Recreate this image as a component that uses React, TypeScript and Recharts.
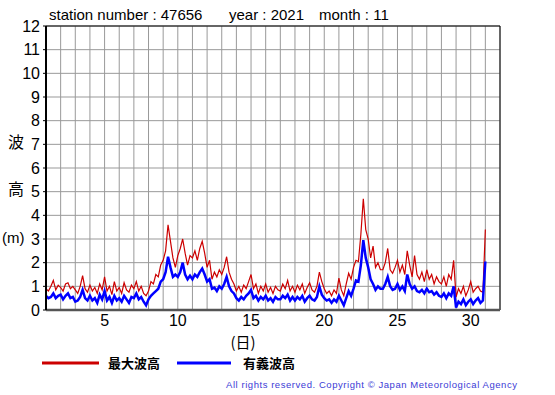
import { CartesianGrid, Line, LineChart, ReferenceLine, XAxis, YAxis } from 'recharts'

// 4-hourly readings, Nov 1 00h .. Dec 1 00h (m)
const maxWave = [
  0.9, 0.8, 1.0, 1.25, 0.85, 1.05,
  0.95, 0.8, 1.1, 1.15, 0.9, 1.0,
  0.85, 0.7, 1.0, 1.45, 0.9, 0.75,
  1.05, 0.8, 0.95, 0.7, 1.1, 0.85,
  1.4, 0.8, 1.0, 0.65, 1.2, 0.8,
  0.95, 0.7, 1.15, 0.85, 0.75, 1.05,
  0.9, 1.2, 0.8, 1.0, 0.7, 0.6,
  0.8, 1.2, 1.1, 1.5, 1.4, 1.9,
  2.1, 2.5, 3.6, 2.9, 2.2, 1.8,
  2.3, 2.6, 3.0, 2.4, 1.9, 2.3,
  2.2, 2.5, 2.1, 2.6, 2.9, 2.4,
  1.8, 2.1, 1.3, 1.6, 1.4, 1.7,
  1.5, 1.8, 2.25, 1.6, 1.3, 1.1,
  0.8, 1.0, 0.75, 1.05, 0.9, 1.2,
  1.5, 0.9, 1.1, 0.7, 1.0, 0.8,
  1.1, 0.75, 0.95, 0.7, 1.0, 0.85,
  0.8, 1.1, 0.9, 1.25, 0.8, 1.0,
  0.75, 1.05, 0.85, 1.1, 0.7, 0.95,
  1.15, 0.85, 0.75, 1.0, 1.6, 1.2,
  0.9, 0.7, 0.8, 0.6, 0.85, 0.7,
  1.35, 0.85, 0.6, 1.1, 1.55, 1.3,
  1.8, 2.1, 2.05, 3.2, 4.7, 3.4,
  3.0, 2.2, 2.7, 1.8, 2.0, 1.7,
  1.7, 2.0, 2.6, 1.7, 1.55, 1.8,
  2.1, 1.6, 1.9, 1.5, 2.5, 1.9,
  1.4, 2.3, 1.5, 1.3, 1.6, 1.2,
  1.7, 1.3, 1.5, 1.1, 1.4, 1.2,
  1.1, 1.4, 1.0, 1.5, 1.3, 2.1,
  0.55, 0.9, 0.7, 1.0, 0.6, 0.85,
  1.2, 0.75, 0.9, 1.0, 0.8, 0.75,
  3.4,
]

const sigWave = [
  0.6, 0.5, 0.55, 0.7, 0.5, 0.6,
  0.65, 0.45, 0.6, 0.7, 0.5, 0.55,
  0.35, 0.4, 0.55, 0.85, 0.5, 0.4,
  0.6, 0.4, 0.5, 0.3, 0.65, 0.45,
  0.8, 0.4, 0.55, 0.3, 0.6, 0.4,
  0.5, 0.35, 0.6, 0.45, 0.3, 0.55,
  0.5, 0.7, 0.45, 0.55, 0.35, 0.2,
  0.45, 0.6, 0.7, 0.8, 0.9, 1.2,
  1.3, 1.6, 2.25, 1.8, 1.4, 1.5,
  1.4, 1.6, 2.0, 1.5, 1.3, 1.45,
  1.3, 1.5, 1.4, 1.6, 1.75, 1.5,
  1.2, 1.3, 0.9, 0.95, 0.8, 1.0,
  0.9, 1.1, 1.4, 1.0, 0.8, 0.7,
  0.5, 0.4, 0.55, 0.45, 0.6, 0.7,
  0.85, 0.5, 0.6, 0.4, 0.55, 0.45,
  0.6, 0.4, 0.5, 0.35, 0.55, 0.45,
  0.45, 0.6, 0.5, 0.65, 0.4, 0.55,
  0.4, 0.55, 0.45, 0.6, 0.35, 0.5,
  0.6, 0.45, 0.4, 0.55, 1.0, 0.65,
  0.5, 0.4, 0.45, 0.3, 0.45, 0.35,
  0.6, 0.4, 0.2, 0.5, 0.8, 0.6,
  0.9, 1.25, 1.2, 1.9, 2.95, 2.2,
  1.8, 1.3, 1.1, 0.85, 1.0, 0.9,
  0.9, 1.1, 1.4, 1.0, 0.85, 0.9,
  1.1, 0.85, 1.0, 0.8, 1.5, 1.1,
  0.9, 1.0, 0.8, 0.75, 0.85, 0.7,
  0.9, 0.75, 0.8, 0.65, 0.75, 0.6,
  0.55, 0.7, 0.5, 0.7, 0.6, 1.0,
  0.1, 0.35, 0.25, 0.45, 0.2, 0.35,
  0.45, 0.25, 0.4, 0.5, 0.3, 0.4,
  2.05,
]

const yTicks = [0, 1, 2, 3, 4, 5, 6, 7, 8, 9, 10, 11, 12]
const dayTicks = [1, 2, 3, 4, 5, 6, 7, 8, 9, 10, 11, 12, 13, 14, 15, 16, 17, 18, 19, 20, 21, 22, 23, 24, 25, 26, 27, 28, 29, 30, 31, 32]
const dayLabels = [5, 10, 15, 20, 25, 30]

const data = maxWave.map((v, i) => ({ day: 1 + i / 6, max: v, sig: sigWave[i] }))

const sans = '"Liberation Sans", Arial, sans-serif'
const cjk = '"Noto Sans CJK JP", sans-serif'

export default function App() {
  return (
    <div style={{ position: 'absolute', left: 0, top: 0, width: 555, height: 395, background: '#fff' }}>
      <LineChart width={555} height={395} data={data} margin={{ top: 26, right: 55, bottom: 0, left: 0 }}>
        <CartesianGrid stroke="#999" strokeWidth={1} />
        <XAxis
          type="number"
          dataKey="day"
          domain={[1, 32]}
          ticks={dayTicks}
          interval={0}
          height={85}
          tickLine={false}
          tickMargin={-1}
          axisLine={{ stroke: '#555', strokeWidth: 2.5 }}
          tick={{ fontSize: 16, fill: '#000', fontFamily: sans }}
          tickFormatter={(v) => (dayLabels.includes(Number(v)) ? String(v) : '')}
        />
        <YAxis
          type="number"
          domain={[0, 12]}
          ticks={yTicks}
          interval={0}
          width={46}
          tickSize={3}
          tickMargin={3}
          axisLine={{ stroke: '#000', strokeWidth: 2 }}
          tickLine={{ stroke: '#000' }}
          tick={{ fontSize: 16, fill: '#000', fontFamily: sans }}
        />
        <ReferenceLine y={12} stroke="#000" strokeWidth={1} />
        <ReferenceLine x={32} stroke="#000" strokeWidth={1} />
        <Line dataKey="max" stroke="#cc0000" strokeWidth={1.2} dot={false} isAnimationActive={false} type="linear" />
        <Line dataKey="sig" stroke="#0000ff" strokeWidth={2.5} dot={false} isAnimationActive={false} type="linear" />
      </LineChart>
      <svg width={555} height={395} style={{ position: 'absolute', left: 0, top: 0, pointerEvents: 'none' }}>
        <text x={49} y={20} fontSize={15} fontFamily={sans} fill="#000">station number : 47656</text>
        <text x={229} y={20} fontSize={15} fontFamily={sans} fill="#000">year : 2021</text>
        <text x={319} y={20} fontSize={15} fontFamily={sans} fill="#000">month : 11</text>
        <text x={16} y={148} fontSize={16} fontFamily={cjk} fill="#000" textAnchor="middle">波</text>
        <text x={16} y={195} fontSize={16} fontFamily={cjk} fill="#000" textAnchor="middle">高</text>
        <text x={2} y={243} fontSize={15} fontFamily={sans} fill="#000">(m)</text>
        <text x={243} y={348} fontSize={15} fontFamily={cjk} fill="#000" textAnchor="middle">(日)</text>
        <line x1={42} x2={99} y1={363} y2={363} stroke="#cc0000" strokeWidth={3} />
        <text x={108} y={368} fontSize={13} fontWeight="bold" fontFamily={cjk} fill="#000">最大波高</text>
        <line x1={177} x2={231} y1={363} y2={363} stroke="#0000ff" strokeWidth={3} />
        <text x={243} y={368} fontSize={13} fontWeight="bold" fontFamily={cjk} fill="#000">有義波高</text>
        <text x={226} y={388} fontSize={9.5} fontFamily={sans} fill="#3b3bd6" textLength={291} lengthAdjust="spacing">
          All rights reserved. Copyright © Japan Meteorological Agency
        </text>
      </svg>
    </div>
  )
}
